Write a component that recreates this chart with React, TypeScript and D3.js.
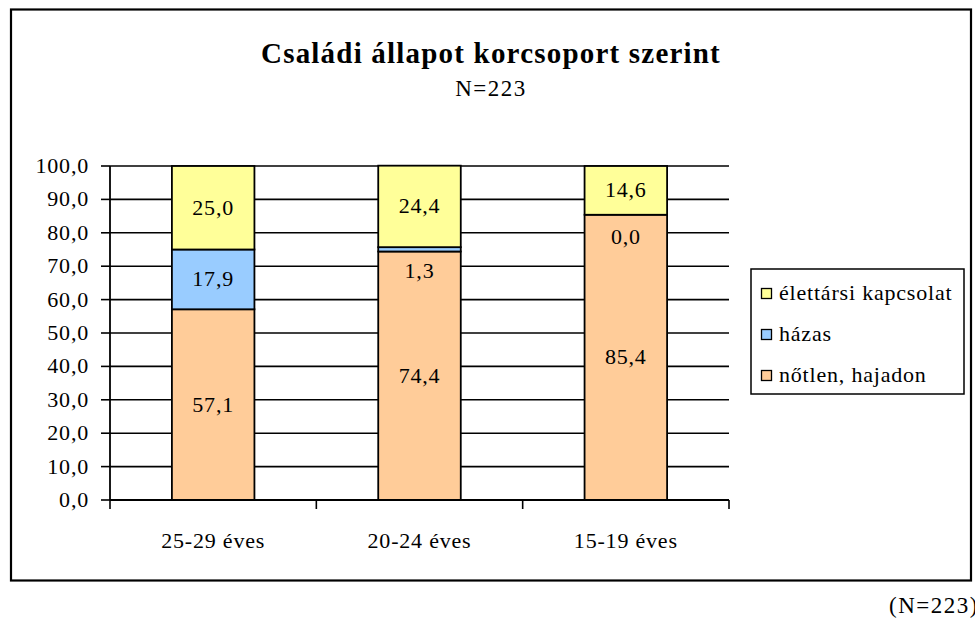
import React from "react";
import * as d3 from "d3";

const categories = ["25-29 éves", "20-24 éves", "15-19 éves"];
const seriesNames = ["nőtlen, hajadon", "házas", "élettársi kapcsolat"];
const notlen = [57.1, 74.4, 85.4];
const hazas = [17.9, 1.3, 0.0];
const elettarsi = [25.0, 24.4, 14.6];
const yTicks = [0, 10, 20, 30, 40, 50, 60, 70, 80, 90, 100];
const colors = ["#FFCC99", "#99CCFF", "#FFFF99"];

const W = 975;
const H = 621;
const FONT = "Liberation Serif, Tinos, Times New Roman, DejaVu Serif, serif";
const FS = 22;
const LS = 0.8;

export default function App() {
  const x0 = 110, x1 = 729, yTop = 166, yBot = 500;
  const x = d3.scaleBand<string>().domain(categories).range([x0, x1]).paddingInner(0.6).paddingOuter(0.3);
  const y = d3.scaleLinear().domain([0, 100]).range([yBot, yTop]);
  const rows = categories.map((c, i) => ({ cat: c, s0: notlen[i], s1: hazas[i], s2: elettarsi[i] }));
  const stack = d3.stack<any>().keys(["s0", "s1", "s2"])(rows);
  const fmt = (v: number) => v.toFixed(1).replace(".", ",");
  const step = (x1 - x0) / categories.length;
  const xTicks = d3.range(categories.length + 1).map((i) => x0 + i * step);

  return (
    <svg width={W} height={H} style={{ position: "absolute", left: 0, top: 0, background: "#fff", fontFamily: FONT }}>
      <rect x={11} y={9.5} width={960} height={571} fill="#fff" stroke="#000" strokeWidth={2.2} />
      <text x={491} y={63} textAnchor="middle" fontSize={29} letterSpacing={1.2} fontWeight="bold">Családi állapot korcsoport szerint</text>
      <text x={491} y={96} textAnchor="middle" fontSize={23} letterSpacing={1.5}>N=223</text>

      {yTicks.map((t) => (
        <g key={t}>
          {t > 0 && <line x1={x0} x2={x1} y1={y(t)} y2={y(t)} stroke="#000" strokeWidth={1.6} />}
          <line x1={x0 - 9} x2={x0} y1={y(t)} y2={y(t)} stroke="#000" strokeWidth={1.6} />
          <text x={89} y={y(t) + 7} textAnchor="end" fontSize={FS} letterSpacing={LS}>{fmt(t)}</text>
        </g>
      ))}

      {stack.map((layer, si) =>
        layer.map((d, ci) => (
          <rect key={`${si}-${ci}`} x={x(categories[ci])} y={y(d[1])} width={x.bandwidth()} height={y(d[0]) - y(d[1])}
            fill={colors[si]} stroke="#000" strokeWidth={1.8} />
        ))
      )}
      {stack.map((layer, si) =>
        layer.map((d, ci) => {
          const v = d[1] - d[0];
          const cy = (y(d[0]) + y(d[1])) / 2 + (v < 5 ? 22 : 0);
          return (
            <text key={`l${si}-${ci}`} x={(x(categories[ci]) as number) + x.bandwidth() / 2} y={cy + 7} textAnchor="middle" fontSize={FS} letterSpacing={LS}>
              {fmt(v)}
            </text>
          );
        })
      )}

      <line x1={x0} x2={x0} y1={yTop} y2={yBot} stroke="#000" strokeWidth={1.8} />
      <line x1={x0} x2={x1} y1={yBot} y2={yBot} stroke="#000" strokeWidth={1.8} />
      {xTicks.map((t, i) => (
        <line key={i} x1={t} x2={t} y1={yBot} y2={yBot + 9} stroke="#000" strokeWidth={1.6} />
      ))}
      {categories.map((c) => (
        <text key={c} x={(x(c) as number) + x.bandwidth() / 2} y={548} textAnchor="middle" fontSize={FS} letterSpacing={LS}>{c}</text>
      ))}

      <rect x={751} y={269} width={213} height={125} fill="#fff" stroke="#000" strokeWidth={1.5} />
      {[2, 1, 0].map((si, k) => (
        <g key={si}>
          <rect x={761.5} y={288.5} width={10} height={10} transform={`translate(0, ${k * 41})`} fill={colors[si]} stroke="#000" strokeWidth={1.3} />
          <text x={779} y={300 + k * 41} fontSize={FS} letterSpacing={LS}>{seriesNames[si]}</text>
        </g>
      ))}

      <text x={889} y={613} fontSize={23} letterSpacing={1.5}>(N=223)</text>
    </svg>
  );
}
